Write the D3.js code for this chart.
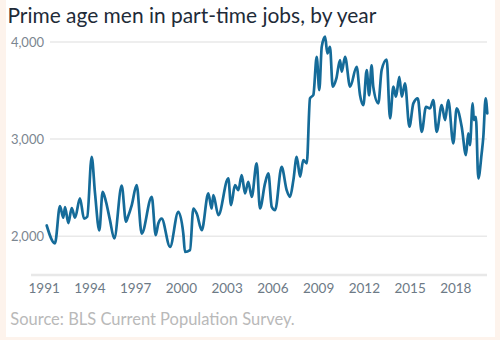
<!DOCTYPE html>
<html>
<head>
<meta charset="utf-8">
<script src="https://cdn.jsdelivr.net/npm/d3@7"></script>
<style>
  html, body { margin: 0; padding: 0; background: #fdf3ec; }
  svg { display: block; }
</style>
</head>
<body>
<svg id="chart" width="500" height="340"></svg>
<script>
// ---- data ----
const title = "Prime age men in part-time jobs, by year";
const source = "Source: BLS Current Population Survey.";
const yTickValues = [2000, 3000, 4000];
const xTickYears = [1991, 1994, 1997, 2000, 2003, 2006, 2009, 2012, 2015, 2018];
// decimal year of each reading
const years = [
  1991.20, 1991.74, 1992.07, 1992.29, 1992.40, 1992.62, 1992.84, 1993.06, 1993.38, 1993.65,
  1993.86, 1994.15, 1994.37, 1994.65, 1994.87, 1995.09, 1995.35, 1995.63, 1996.12, 1996.40,
  1996.53, 1996.78, 1997.10, 1997.43, 1998.09, 1998.35, 1998.52, 1998.74, 1999.29, 1999.83,
  2000.16, 2000.27, 2000.60, 2000.82, 2001.04, 2001.37, 2001.80, 2002.02, 2002.13, 2002.46,
  2003.11, 2003.29, 2003.55, 2003.77, 2003.99, 2004.21, 2004.42, 2004.65, 2004.97, 2005.19,
  2005.52, 2005.74, 2005.96, 2006.18, 2006.61, 2006.94, 2007.16, 2007.38, 2007.60, 2007.82,
  2008.03, 2008.26, 2008.47, 2008.69, 2008.91, 2009.08, 2009.24, 2009.46, 2009.61, 2009.78,
  2009.96, 2010.20, 2010.44, 2010.55, 2010.77, 2011.10, 2011.53, 2011.75, 2011.97, 2012.19,
  2012.35, 2012.51, 2012.62, 2012.95, 2013.17, 2013.50, 2013.72, 2013.94, 2014.11, 2014.33,
  2014.49, 2014.70, 2014.99, 2015.25, 2015.54, 2015.80, 2016.08, 2016.34, 2016.56, 2016.78,
  2017.11, 2017.33, 2017.54, 2017.87, 2018.09, 2018.42, 2018.70, 2018.85, 2018.96, 2019.14,
  2019.22, 2019.35, 2019.51, 2019.73, 2019.84, 2019.99, 2020.10
];
// prime age men in part-time jobs (thousands)
const values = [
  2110, 1925, 2310, 2190, 2300, 2135, 2290, 2190, 2390, 2180,
  2200, 2818, 2440, 2060, 2457, 2354, 2165, 1976, 2520, 2150,
  2200, 2320, 2525, 2027, 2405, 2010, 2130, 2180, 1890, 2250,
  2027, 1838, 1856, 2285, 2233, 2062, 2440, 2285, 2423, 2216,
  2595, 2320, 2525, 2474, 2629, 2440, 2560, 2405, 2750, 2285,
  2543, 2646, 2302, 2268, 2714, 2474, 2405, 2577, 2818, 2612,
  2783, 2750, 3420, 3454, 3848, 3505, 3950, 4055, 3883, 3950,
  3540, 3625, 3814, 3694, 3848, 3540, 3745, 3454, 3350, 3711,
  3450, 3760, 3540, 3368, 3711, 3820, 3213, 3540, 3436, 3642,
  3436, 3574, 3127, 3368, 3420, 3075, 3333, 3316, 3402, 3075,
  3350, 3196, 3402, 2955, 3316, 3127, 2835, 3059, 2938, 3368,
  3196, 3230, 2595, 2852, 3024, 3420, 3265
];

// ---- layout ----
const svg = d3.select("#chart");
const fontFamily = "Lato, 'Open Sans', sans-serif";

svg.append("rect").attr("x", 6).attr("y", 0).attr("width", 489).attr("height", 337)
  .attr("fill", "#ffffff");

const x = d3.scaleLinear().domain([1991.2, 2020.1]).range([46.7, 487.3]);
const y = d3.scaleLinear().domain([1600, 4000]).range([275, 42]);

// gridlines
const grid = svg.append("g");
grid.selectAll("line").data(yTickValues).join("line")
  .attr("x1", 50).attr("x2", 487)
  .attr("y1", d => y(d)).attr("y2", d => y(d))
  .attr("stroke", "#e9e9e9").attr("stroke-width", 1.5);

// y labels
const fmt = d3.format(",");
svg.append("g").selectAll("text").data(yTickValues).join("text")
  .attr("x", 44).attr("y", d => y(d)).attr("dy", "0.35em")
  .attr("text-anchor", "end")
  .attr("font-family", fontFamily).attr("font-size", 13)
  .attr("fill", "#7b8690")
  .text(d => fmt(d));

// bottom axis line
svg.append("line").attr("x1", 31).attr("x2", 487).attr("y1", 275).attr("y2", 275)
  .attr("stroke", "#e8e8e8").attr("stroke-width", 2.5);

// x axis labels through d3 axis
const xAxis = d3.axisBottom(x).tickValues(xTickYears).tickFormat(d3.format("d")).tickSize(0).tickPadding(0);
const xg = svg.append("g").attr("transform", "translate(0,283)").call(xAxis);
xg.select(".domain").remove();
xg.selectAll("text")
  .attr("font-family", fontFamily).attr("font-size", 13.5)
  .attr("fill", "#6d7a86").attr("dy", "0.71em");

// line
const pts = years.map((t, i) => [t, values[i]]);
const line = d3.line().x(d => x(d[0])).y(d => y(d[1])).curve(d3.curveMonotoneX);
svg.append("path").datum(pts).attr("d", line)
  .attr("fill", "none").attr("stroke", "#156b99").attr("stroke-width", 2.7)
  .attr("stroke-linejoin", "round").attr("stroke-linecap", "round");

// title
const t = svg.append("text").attr("x", 7.5).attr("y", 23)
  .attr("font-family", fontFamily).attr("font-size", 20)
  .attr("fill", "#1e2b38").text(title);
// fit width to reference
const tw = t.node().getComputedTextLength();
t.attr("font-size", 20 * 369 / tw);

const s = svg.append("text").attr("x", 10.3).attr("y", 325)
  .attr("font-family", fontFamily).attr("font-size", 15)
  .attr("fill", "#b9b9b9").text(source);
const sw = s.node().getComputedTextLength();
s.attr("font-size", 15 * 284.7 / sw);
</script>
</body>
</html>
